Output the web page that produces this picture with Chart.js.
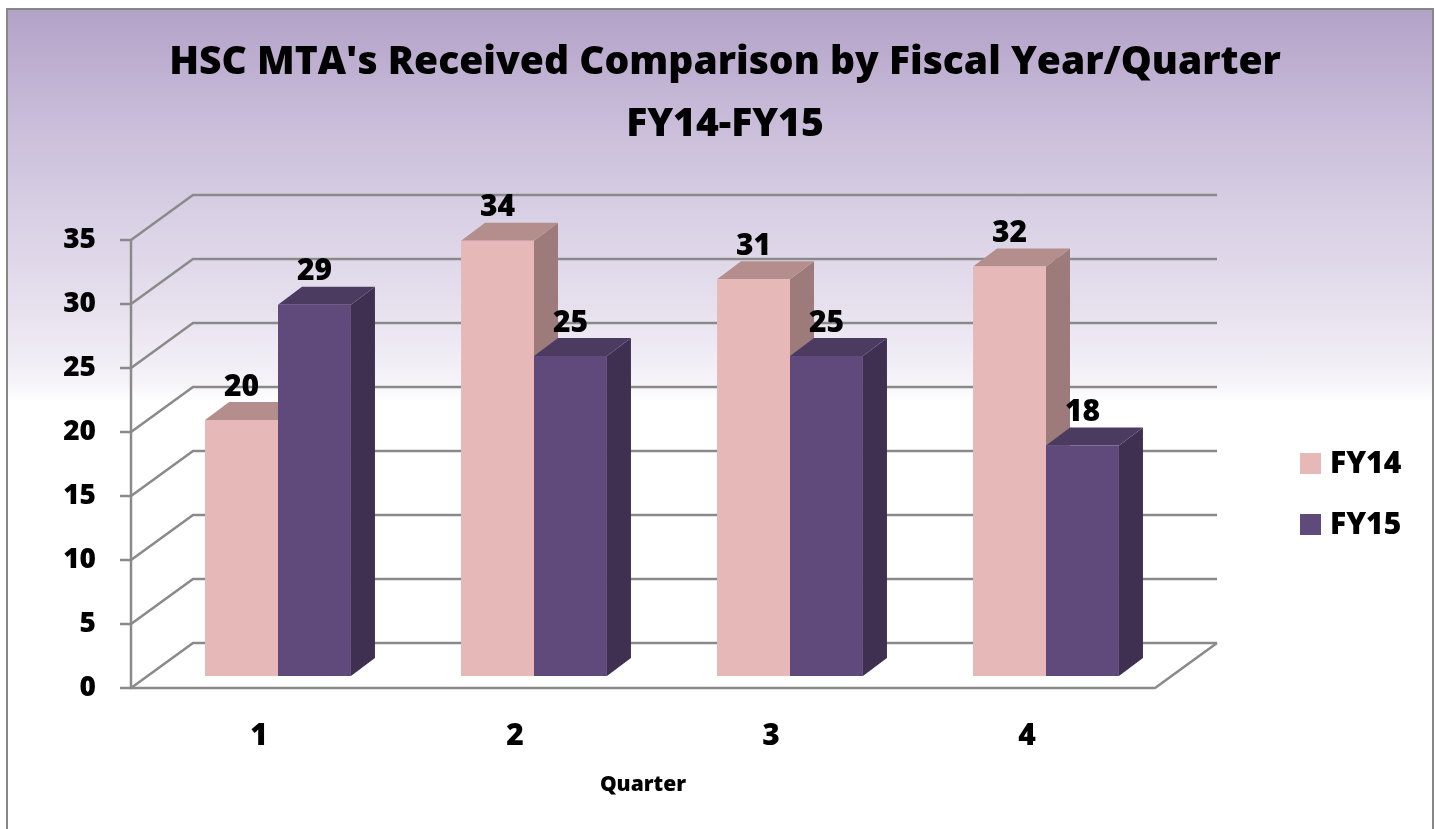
<!DOCTYPE html>
<html>
<head>
<meta charset="utf-8">
<script src="https://cdn.jsdelivr.net/npm/chart.js@4.4.0/dist/chart.umd.min.js"></script>
<style>
  body { margin: 0; background: #fff; }
  #frame {
    position: absolute; left: 6px; top: 8px; width: 1424px; height: 830px;
    border: 2px solid #878787; border-bottom: none;
    background: linear-gradient(to bottom, #b3a2c8 0px, #c9bcd9 110px, #d6cde3 190px, #e7e1ee 300px, #f5f2f8 370px, #ffffff 392px, #ffffff 100%);
  }
  #chartCanva { position: absolute; left: 0; top: 0; }
</style>
</head>
<body>
<div id="frame"></div>
<canvas id="chartCanva" width="1435" height="829"></canvas>
<script>
const quarters = ['1', '2', '3', '4'];
const fy14 = [20, 34, 31, 32];
const fy15 = [29, 25, 25, 18];
const seriesNames = ['FY14', 'FY15'];
const yMax = 35;
const yStep = 5;

const frontColors = ['#e6b9b8', '#604a7b'];
const topColors = ['#b48e8c', '#4b3b61'];
const sideColors = ['#9d7b7a', '#3f2f51'];

const FONT = '"Open Sans", "DejaVu Sans", sans-serif';
const HEAVY = '800';
const WALL_DX = 62, WALL_DY = -45;   // depth of the back wall
const BAR_DX = 19, BAR_DY = -12;     // bars stand a bit behind the front axis
const DEPTH_DX = 24, DEPTH_DY = -18; // depth of each bar

const fake3d = {
  id: 'fake3d',
  afterLayout(chart) {
    // excel centres the title on the whole picture, not the plot
    if (chart.titleBlock) { chart.titleBlock.left = 0; chart.titleBlock.right = 1450; }
  },
  beforeDatasetsDraw(chart) {
    const { ctx, chartArea: a, scales: { y } } = chart;
    ctx.save();
    ctx.strokeStyle = '#8a8a8a';
    ctx.lineWidth = 2.5;
    y.ticks.forEach(t => {
      const py = y.getPixelForValue(t.value);
      ctx.beginPath();
      ctx.moveTo(a.left - 11, py);
      ctx.lineTo(a.left, py);
      ctx.lineTo(a.left + WALL_DX, py + WALL_DY);
      ctx.lineTo(a.right + WALL_DX, py + WALL_DY);
      ctx.stroke();
    });
    ctx.beginPath();
    ctx.moveTo(a.left, a.top);
    ctx.lineTo(a.left, a.bottom);
    ctx.lineTo(a.right, a.bottom);
    ctx.lineTo(a.right + WALL_DX, a.bottom + WALL_DY);
    ctx.stroke();
    ctx.restore();

    // bars: tops and sides first, fronts come from chart.js
    ctx.save();
    ctx.translate(BAR_DX, BAR_DY);
    chart.data.datasets.forEach((ds, i) => {
      chart.getDatasetMeta(i).data.forEach(bar => {
        const p = bar.getProps(['x', 'y', 'base', 'width'], true);
        const l = p.x - p.width / 2, r = p.x + p.width / 2;
        ctx.fillStyle = sideColors[i];
        ctx.beginPath();
        ctx.moveTo(r, p.y); ctx.lineTo(r + DEPTH_DX, p.y + DEPTH_DY);
        ctx.lineTo(r + DEPTH_DX, p.base + DEPTH_DY); ctx.lineTo(r, p.base);
        ctx.closePath(); ctx.fill();
        ctx.fillStyle = topColors[i];
        ctx.beginPath();
        ctx.moveTo(l, p.y); ctx.lineTo(l + DEPTH_DX, p.y + DEPTH_DY);
        ctx.lineTo(r + DEPTH_DX, p.y + DEPTH_DY); ctx.lineTo(r, p.y);
        ctx.closePath(); ctx.fill();
      });
    });
  },
  afterDatasetsDraw(chart) {
    const { ctx } = chart;
    ctx.fillStyle = '#000';
    ctx.font = HEAVY + ' 30px ' + FONT;
    ctx.textAlign = 'center';
    ctx.textBaseline = 'middle';
    chart.data.datasets.forEach((ds, i) => {
      chart.getDatasetMeta(i).data.forEach((bar, j) => {
        ctx.fillText(String(ds.data[j]), bar.x, bar.y - 33);
      });
    });
    ctx.restore();
  },
  afterDraw(chart) {
    const { ctx } = chart;
    ctx.save();
    ctx.font = HEAVY + ' 30px ' + FONT;
    ctx.textAlign = 'left';
    ctx.textBaseline = 'middle';
    chart.data.datasets.forEach((ds, i) => {
      const cy = 463 + i * 61;
      ctx.fillStyle = ds.backgroundColor;
      ctx.fillRect(1300, cy - 10, 21, 21);
      ctx.fillStyle = '#000';
      ctx.fillText(ds.label, 1330, cy + 1);
    });
    ctx.restore();
  }
};

const data = {
  labels: quarters,
  datasets: [
    { label: seriesNames[0], data: fy14, backgroundColor: frontColors[0] },
    { label: seriesNames[1], data: fy15, backgroundColor: frontColors[1] }
  ]
};

const config = {
  type: 'bar',
  data: data,
  options: {
    responsive: false,
    animation: false,
    devicePixelRatio: 1,
    datasets: { bar: { barPercentage: 1, categoryPercentage: 0.57, borderWidth: 0, clip: false } },
    layout: { padding: { top: 8, left: 0, right: 280, bottom: 0 } },
    plugins: {
      legend: { display: false },
      tooltip: { enabled: false },
      title: {
        display: true,
        text: ["HSC MTA's Received Comparison by Fiscal Year/Quarter", 'FY14-FY15'],
        color: '#000',
        font: { family: FONT, size: 39, weight: HEAVY, lineHeight: 62 / 39 },
        padding: { top: 24, bottom: 84 }
      }
    },
    scales: {
      x: {
        grid: { display: false, drawTicks: false },
        border: { display: false },
        ticks: { color: '#000', padding: 30, font: { family: FONT, size: 30, weight: HEAVY } },
        title: { display: true, text: 'Quarter', color: '#000', padding: { top: 0, bottom: 31 },
                 font: { family: FONT, size: 21, weight: HEAVY } },
        afterFit: s => { s.height = 141; }
      },
      y: {
        min: 0, max: yMax,
        grid: { display: false, drawTicks: false },
        border: { display: false },
        ticks: { stepSize: yStep, color: '#000', padding: 35, font: { family: FONT, size: 28, weight: HEAVY } },
        afterFit: s => { s.width = 131; }
      }
    }
  },
  plugins: [fake3d]
};

new Chart(document.getElementById('chartCanva'), config);
</script>
</body>
</html>
